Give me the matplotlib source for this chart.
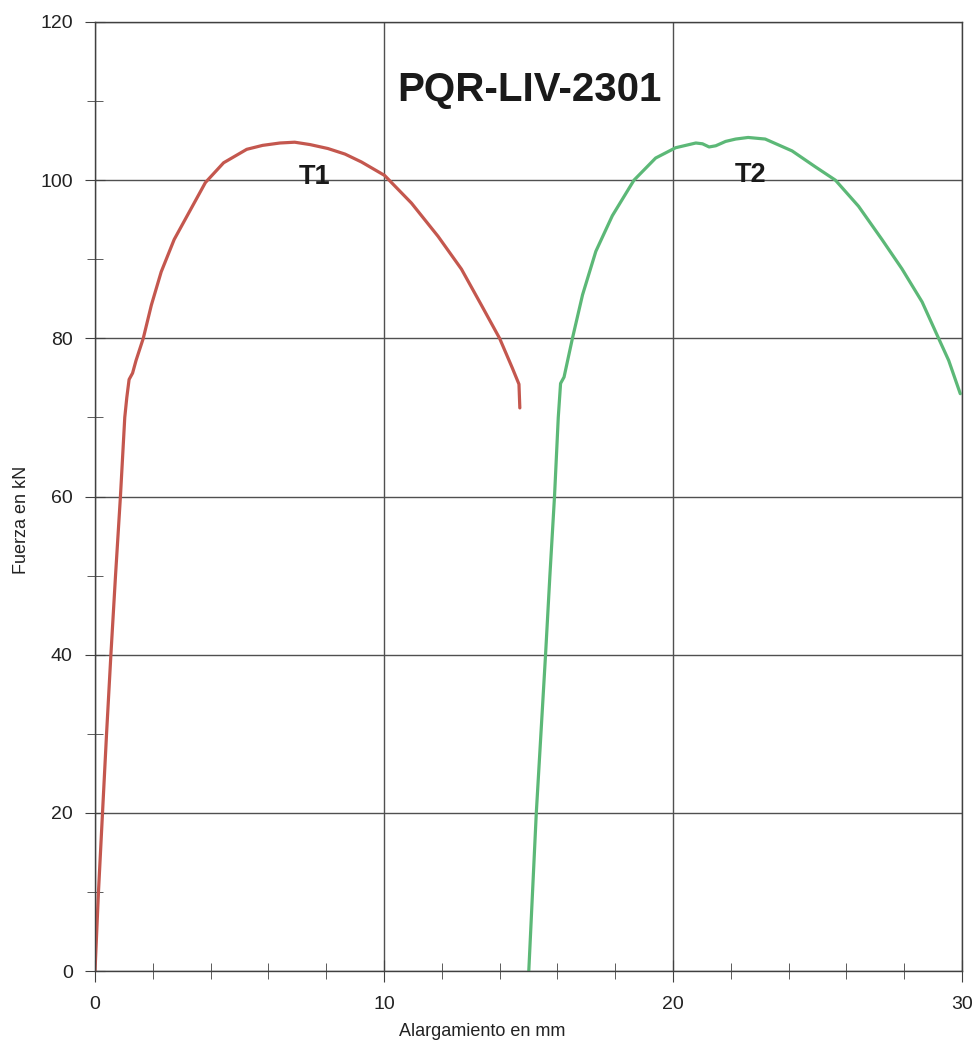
import matplotlib
matplotlib.use("Agg")
import matplotlib.pyplot as plt
from matplotlib.ticker import MultipleLocator

plt.rcParams['font.family'] = ['Liberation Sans', 'DejaVu Sans']

# T1 specimen: elongation (mm) vs force (kN)
t1_x = [0.0, 0.12, 0.26, 0.40, 0.55, 0.71, 0.88, 1.03, 1.10, 1.18, 1.30, 1.42,
        1.67, 1.95, 2.29, 2.74, 3.31, 3.82, 4.45, 5.25, 5.80, 6.40, 6.91, 7.44,
        8.06, 8.65, 9.22, 10.02, 10.95, 11.87, 12.68, 13.37, 14.00, 14.44,
        14.67, 14.70]
t1_y = [0.0, 10.0, 20.0, 30.0, 40.0, 50.0, 60.0, 70.0, 72.5, 74.8, 75.6, 77.2,
        80.0, 84.2, 88.4, 92.5, 96.3, 99.7, 102.2, 103.9, 104.4, 104.7, 104.8,
        104.5, 104.0, 103.3, 102.3, 100.6, 97.1, 92.9, 88.75, 84.2, 80.0, 76.25,
        74.2, 71.2]

# T2 specimen
t2_x = [15.01, 15.14, 15.27, 15.43, 15.59, 15.74, 15.90, 16.03, 16.11, 16.23,
        16.52, 16.87, 17.33, 17.90, 18.65, 19.40, 20.09, 20.79, 21.02, 21.25,
        21.48, 21.82, 22.17, 22.60, 23.19, 24.12, 24.92, 25.62, 26.42, 27.23,
        27.92, 28.62, 29.19, 29.54, 29.94]
t2_y = [0.0, 10.0, 20.0, 30.0, 40.0, 50.0, 60.0, 70.0, 74.3, 75.1,
        80.0, 85.5, 91.0, 95.5, 100.0, 102.8, 104.1, 104.7, 104.6, 104.2,
        104.35, 104.9, 105.2, 105.4, 105.2, 103.7, 101.7, 100.0, 96.7, 92.5,
        88.8, 84.6, 80.0, 77.2, 73.0]

title_text = "PQR-LIV-2301"
x_label = "Alargamiento en mm"
y_label = "Fuerza en kN"

fig = plt.figure(figsize=(9.75, 10.47), dpi=100)
ax = fig.add_axes([95/975, 1 - 971/1047, (962-95)/975, (971-22)/1047])

ax.plot(t1_x, t1_y, color='#c4574e', lw=2.3, solid_joinstyle='round', solid_capstyle='round')
ax.plot(t2_x, t2_y, color='#5cb877', lw=2.3, solid_joinstyle='round', solid_capstyle='round')

ax.set_xlim(0, 30)
ax.set_ylim(0, 120)
ax.xaxis.set_major_locator(MultipleLocator(10))
ax.xaxis.set_minor_locator(MultipleLocator(2))
ax.yaxis.set_major_locator(MultipleLocator(20))
ax.yaxis.set_minor_locator(MultipleLocator(10))
ax.grid(True, which='major', color='#505050', lw=1.0)
for s in ax.spines.values():
    s.set_color('#404040')
    s.set_linewidth(1.0)
ax.tick_params(axis='both', which='both', direction='inout', color='#404040',
               labelsize=14, labelcolor='#222222', right=False, top=False)
ax.tick_params(axis='x', which='major', length=16, pad=10)
ax.tick_params(axis='x', which='minor', length=12)
ax.tick_params(axis='y', which='major', length=14, pad=9)
ax.tick_params(axis='y', which='minor', length=12)

ax.text(15.04, 111.4, title_text, fontsize=29, fontweight='bold', ha='center', va='center', color='#1a1a1a')
ax.text(7.6, 100.4, "T1", fontsize=19.5, fontweight='bold', ha='center', va='center', color='#1a1a1a')
ax.text(22.7, 100.6, "T2", fontsize=19.5, fontweight='bold', ha='center', va='center', color='#1a1a1a')

fig.text(482/975, 1 - 1031/1047, x_label, fontsize=13, ha='center', va='center', color='#222222')
fig.text(22/975, 1 - 520/1047, y_label, fontsize=13, ha='center', va='center', rotation=90, color='#222222')

fig.savefig("out.png", dpi=100)
